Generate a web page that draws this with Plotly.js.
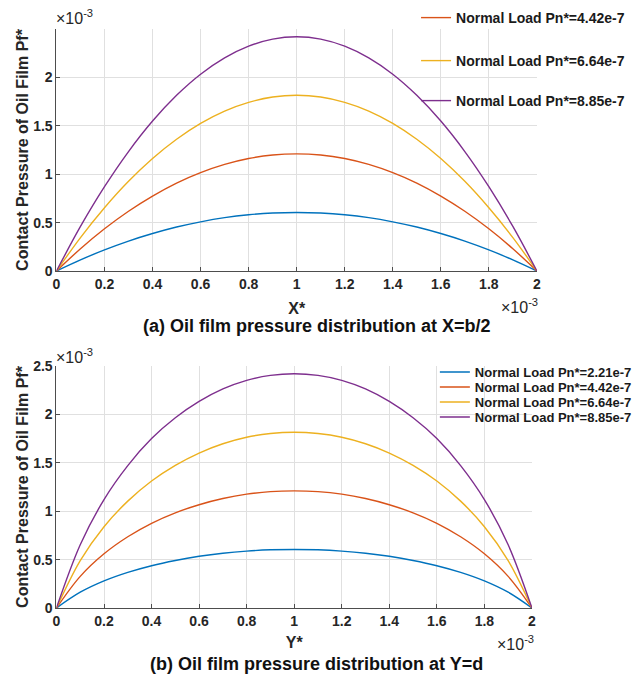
<!DOCTYPE html>
<html>
<head>
<meta charset="utf-8">
<script src="https://cdn.plot.ly/plotly-3.0.1.min.js"></script>
<style>html,body{margin:0;padding:0;background:#fff;}</style>
</head>
<body>
<div id="chart" style="width:637px;height:685px;"></div>
<script>
// ---- data (x in units of 1e-3, pressure in units of 1e-3) ----
const seriesNames = [
  "Normal Load Pn*=2.21e-7",
  "Normal Load Pn*=4.42e-7",
  "Normal Load Pn*=6.64e-7",
  "Normal Load Pn*=8.85e-7"
];
const seriesColors = ["#0072BD", "#D95319", "#EDB120", "#7E2F8E"];

// (a) at X=b/2
const xTop = [0,0.1,0.2,0.3,0.4,0.5,0.6,0.7,0.8,0.9,1.0,1.1,1.2,1.3,1.4,1.5,1.6,1.7,1.8,1.9,2.0];
const topP1 = [0,0.115,0.218,0.309,0.387,0.454,0.508,0.551,0.581,0.599,0.605,0.599,0.581,0.551,0.508,0.454,0.387,0.309,0.218,0.115,0];
const topP2 = [0,0.230,0.436,0.617,0.774,0.908,1.016,1.101,1.162,1.198,1.210,1.198,1.162,1.101,1.016,0.908,0.774,0.617,0.436,0.230,0];
const topP3 = [0,0.345,0.653,0.926,1.162,1.361,1.525,1.652,1.742,1.797,1.815,1.797,1.742,1.652,1.525,1.361,1.162,0.926,0.653,0.345,0];
const topP4 = [0,0.460,0.871,1.234,1.549,1.815,2.033,2.202,2.323,2.396,2.420,2.396,2.323,2.202,2.033,1.815,1.549,1.234,0.871,0.460,0];

// (b) at Y=d
const yBot = [0,0.1,0.2,0.3,0.4,0.5,0.6,0.7,0.8,0.9,1.0,1.1,1.2,1.3,1.4,1.5,1.6,1.7,1.8,1.9,2.0];
const botP1 = [0,0.163,0.280,0.368,0.437,0.491,0.534,0.566,0.588,0.601,0.605,0.601,0.588,0.566,0.534,0.491,0.437,0.368,0.280,0.163,0];
const botP2 = [0,0.327,0.560,0.736,0.875,0.983,1.067,1.131,1.176,1.202,1.210,1.202,1.176,1.131,1.067,0.983,0.875,0.736,0.560,0.327,0];
const botP3 = [0,0.490,0.840,1.104,1.312,1.474,1.601,1.697,1.764,1.802,1.815,1.802,1.764,1.697,1.601,1.474,1.312,1.104,0.840,0.490,0];
const botP4 = [0,0.653,1.120,1.471,1.750,1.965,2.134,2.263,2.352,2.403,2.420,2.403,2.352,2.263,2.134,1.965,1.750,1.471,1.120,0.653,0];

const xTickVals = [0,0.2,0.4,0.6,0.8,1,1.2,1.4,1.6,1.8,2];
const xTickText = ["0","0.2","0.4","0.6","0.8","1","1.2","1.4","1.6","1.8","2"];
const yTickValsTop = [0,0.5,1,1.5,2];
const yTickTextTop = ["0","0.5","1","1.5","2"];
const yTickValsBot = [0,0.5,1,1.5,2,2.5];
const yTickTextBot = ["0","0.5","1","1.5","2","2.5"];

const titleA = "(a) Oil film pressure distribution at X=b/2";
const titleB = "(b) Oil film pressure distribution at Y=d";
const yTitle = "Contact Pressure of Oil Film Pf*";
const expLabel = "×10<sup>-3</sup>";

// ---- traces ----
const W = 637, H = 685;
const fam = "Liberation Sans, Arial, Helvetica, sans-serif";
const topSeries = [topP1, topP2, topP3, topP4];
const botSeries = [botP1, botP2, botP3, botP4];
const topLegendNames = [null, "legend", "legend2", "legend3"];
const botLegendNames = ["legend4", "legend5", "legend6", "legend7"];
const traces = [];
topSeries.forEach((ys, i) => {
  const t = {
    x: xTop, y: ys, type: "scatter", mode: "lines",
    name: seriesNames[i], xaxis: "x", yaxis: "y",
    line: {color: seriesColors[i], width: 1.4, shape: "spline", smoothing: 1},
    showlegend: i > 0
  };
  if (topLegendNames[i]) t.legend = topLegendNames[i];
  traces.push(t);
});
botSeries.forEach((ys, i) => {
  traces.push({
    x: yBot, y: ys, type: "scatter", mode: "lines",
    name: seriesNames[i], xaxis: "x2", yaxis: "y2",
    line: {color: seriesColors[i], width: 1.4, shape: "spline", smoothing: 1},
    legend: botLegendNames[i], showlegend: true
  });
});

const axisCommon = {
  showgrid: true, gridcolor: "#e0e0e0", gridwidth: 1,
  showline: true, linecolor: "#4d4d4d", linewidth: 1,
  ticks: "inside", ticklen: 4, tickcolor: "#4d4d4d",
  zeroline: false, automargin: false, mirror: false,
  tickfont: {family: fam, size: 14, color: "#262626", weight: "bold"}
};
function xa(domain, anchor, titleText, standoff) {
  return Object.assign({}, axisCommon, {
    domain: domain, anchor: anchor, range: [0, 2],
    tickmode: "array", tickvals: xTickVals, ticktext: xTickText,
    title: {text: titleText, font: {family: fam, size: 16, color: "#262626", weight: "bold"}, standoff: standoff}
  });
}
function ya(domain, anchor, range, tv, tt) {
  return Object.assign({}, axisCommon, {
    domain: domain, anchor: anchor, range: range,
    tickmode: "array", tickvals: tv, ticktext: tt,
    title: {text: yTitle, font: {family: fam, size: 16, color: "#262626", weight: "bold"}, standoff: 0}
  });
}
function leg(xText, yCenter, size) {
  return {
    x: (xText - 38) / W, xanchor: "left", y: (H - yCenter) / H, yanchor: "middle",
    bgcolor: "rgba(0,0,0,0)", borderwidth: 0,
    font: {family: fam, size: size, color: "#1a1a1a", weight: "bold"}
  };
}

const layout = {
  width: W, height: H,
  margin: {l: 0, r: 0, t: 0, b: 0},
  paper_bgcolor: "#ffffff", plot_bgcolor: "#ffffff",
  font: {family: fam, color: "#262626"},
  xaxis: xa([57 / W, 542 / W], "y", "X*", 12),
  yaxis: ya([(H - 271) / H, (H - 29) / H], "x", [0, 2.5], yTickValsTop, yTickTextTop),
  xaxis2: xa([57 / W, 537 / W], "y2", "Y*", 9),
  yaxis2: ya([(H - 608) / H, (H - 366) / H], "x2", [0, 2.5], yTickValsBot, yTickTextBot),
  legend: leg(458, 18, 14),
  legend2: leg(458, 61, 14),
  legend3: leg(458, 101, 14),
  legend4: leg(477, 372, 13),
  legend5: leg(477, 387, 13),
  legend6: leg(477, 402, 13),
  legend7: leg(477, 417, 13),
  annotations: [
    {text: titleA, xref: "paper", yref: "paper", x: 320 / W, y: (H - 326) / H, xanchor: "center", yanchor: "middle", showarrow: false,
     font: {family: fam, size: 18, color: "#111111", weight: "bold"}},
    {text: titleB, xref: "paper", yref: "paper", x: 320 / W, y: (H - 664) / H, xanchor: "center", yanchor: "middle", showarrow: false,
     font: {family: fam, size: 18, color: "#111111", weight: "bold"}},
    {text: expLabel, xref: "paper", yref: "paper", x: 55 / W, y: (H - 17) / H, xanchor: "left", yanchor: "middle", showarrow: false,
     font: {family: fam, size: 16, color: "#262626"}},
    {text: expLabel, xref: "paper", yref: "paper", x: 545 / W, y: (H - 306) / H, xanchor: "right", yanchor: "middle", showarrow: false,
     font: {family: fam, size: 16, color: "#262626"}},
    {text: expLabel, xref: "paper", yref: "paper", x: 55 / W, y: (H - 356) / H, xanchor: "left", yanchor: "middle", showarrow: false,
     font: {family: fam, size: 16, color: "#262626"}},
    {text: expLabel, xref: "paper", yref: "paper", x: 541 / W, y: (H - 643) / H, xanchor: "right", yanchor: "middle", showarrow: false,
     font: {family: fam, size: 16, color: "#262626"}}
  ]
};

Plotly.newPlot("chart", traces, layout, {displayModeBar: false, staticPlot: true});
</script>
</body>
</html>
